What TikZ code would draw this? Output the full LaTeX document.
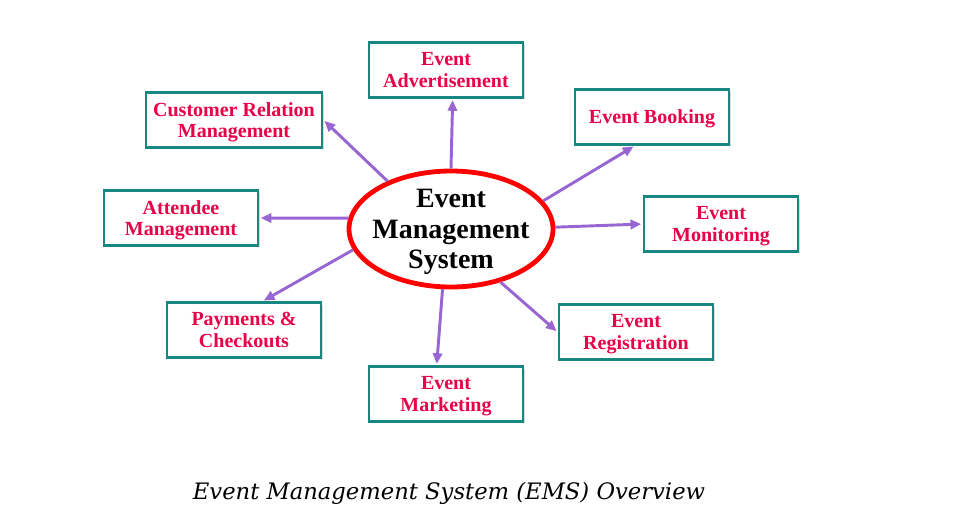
\documentclass[tikz,border=0pt]{standalone}
\usepackage{fontspec}
\setmainfont{Liberation Serif}
\newfontfamily\capfont{DejaVu Serif}
\usetikzlibrary{shapes.geometric,shadows,arrows.meta}
\definecolor{boxline}{RGB}{24,135,130}
\definecolor{boxtext}{RGB}{232,0,72}
\definecolor{linkcol}{RGB}{152,102,210}
\tikzset{>={Triangle[length=8pt,width=7pt]},
  box/.style={draw=boxline, line width=2.2pt, fill=white, minimum width=115.5pt, minimum height=41pt,
    align=center, text=boxtext, text depth=0pt, font=\fontsize{15}{16}\selectfont\bfseries,
    drop shadow={shadow xshift=1.5pt, shadow yshift=-1.5pt, fill=black!25, opacity=0.6}},
  ems/.style={ellipse, draw=red, line width=3.6pt, fill=white, minimum width=153pt, minimum height=87pt,
    align=center, inner xsep=-6pt, inner ysep=-8pt, text depth=0pt, font=\fontsize{21}{23}\selectfont\bfseries},
  link/.style={->, draw=linkcol, line width=2.2pt, shorten >=1pt}}

\begin{document}
\begin{tikzpicture}[x=0.75pt,y=-0.75pt]
\useasboundingbox (0,0) rectangle (959,526);
\node[ems] (sys) at (451,229) {Event\\Management\\System};
\node[box] (adv) at (446,70) {Event\\Advertisement};
\node[box, minimum width=132pt] (crm) at (234,120) {Customer Relation\\Management};
\node[box] (book) at (652,117) {Event Booking};
\node[box] (att) at (181,218) {Attendee\\Management};
\node[box] (mon) at (721,224) {Event\\Monitoring};
\node[box] (pay) at (244,330) {Payments \&\\Checkouts};
\node[box] (reg) at (636,332) {Event\\Registration};
\node[box] (mark) at (446,394) {Event\\Marketing};
\draw[link] (sys.90) -- ([xshift=5pt]adv.south);
\draw[link] (sys.143) -- (crm.east);
\draw[link] (sys.17) -- ([xshift=-13pt]book.south);
\draw[link] (sys.174) -- (att.east);
\draw[link] (sys.1) -- (mon.west);
\draw[link] (sys.192) -- ([xshift=14pt]pay.north);
\draw[link] (sys.313) -- (reg.west);
\draw[link] (sys.262) -- ([xshift=-7pt]mark.north);
\node[font=\capfont\itshape\fontsize{17}{20}\selectfont] (cap) at (449,493) {Event Management System (EMS) Overview};
\end{tikzpicture}
\end{document}
